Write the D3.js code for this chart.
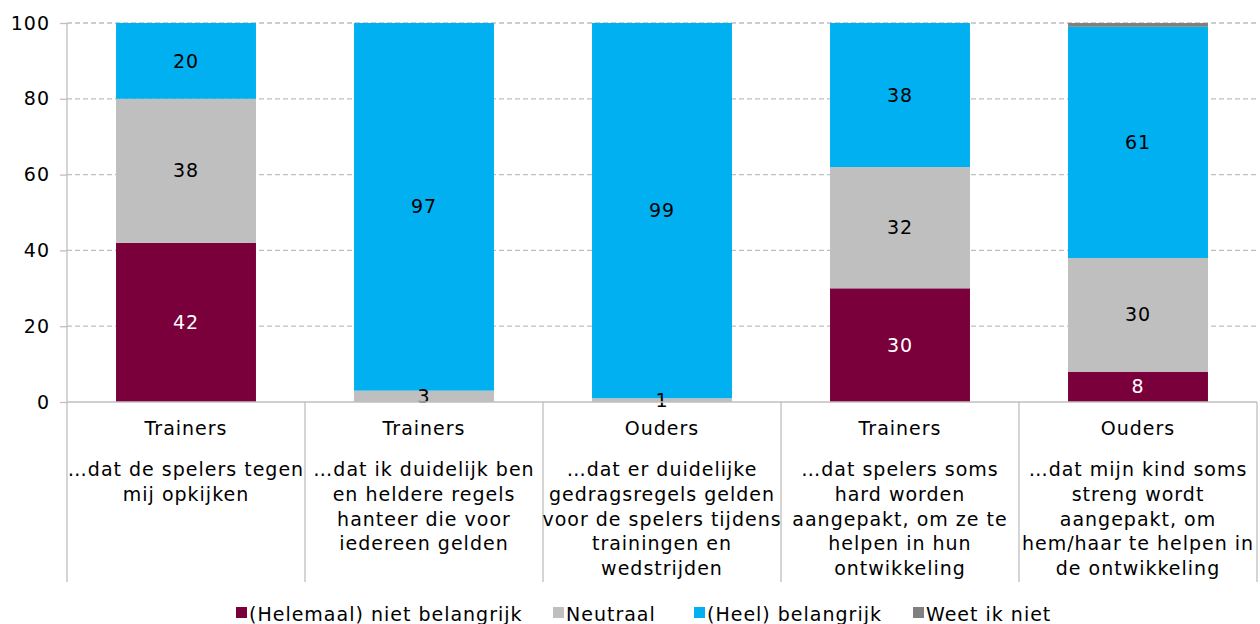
<!DOCTYPE html>
<html>
<head>
<meta charset="utf-8">
<script src="https://cdn.jsdelivr.net/npm/d3@7"></script>
<style>
  body { margin: 0; background: #fff; }
  svg text { font-family: "DejaVu Sans", Verdana, sans-serif; letter-spacing: 1px; }
</style>
</head>
<body>
<svg id="chart" width="1260" height="624"></svg>
<script>

var groups = ["Trainers", "Trainers", "Ouders", "Trainers", "Ouders"];

var descriptions = [
    "…dat de spelers tegen\nmij opkijken",
    "…dat ik duidelijk ben\nen heldere regels\nhanteer die voor\niedereen gelden",
    "…dat er duidelijke\ngedragsregels gelden\nvoor de spelers tijdens\ntrainingen en\nwedstrijden",
    "…dat spelers soms\nhard worden\naangepakt, om ze te\nhelpen in hun\nontwikkeling",
    "…dat mijn kind soms\nstreng wordt\naangepakt, om\nhem/haar te helpen in\nde ontwikkeling"
];

var seriesNames = ["(Helemaal) niet belangrijk", "Neutraal", "(Heel) belangrijk", "Weet ik niet"];
var seriesColors = ["#7a003c", "#bfbfbf", "#00b0f0", "#808080"];

var nietBelangrijk = [42, 0, 0, 30, 8];
var neutraal = [38, 3, 1, 32, 30];
var belangrijk = [20, 97, 99, 38, 61];
var weetNiet = [0, 0, 0, 0, 1];

var yTicks = [0, 20, 40, 60, 80, 100];

var svg = d3.select("#chart");
var plotLeft = 67, plotRight = 1257, plotTop = 23, plotBottom = 402, catBottom = 582;

var x = d3.scaleBand().domain(d3.range(groups.length)).range([plotLeft, plotRight]).padding(0);
var y = d3.scaleLinear().domain([0, 100]).range([plotBottom, plotTop]);
var barW = x.bandwidth() * 0.588;

// gridlines
svg.append("g").selectAll("line")
    .data(yTicks.filter(function(d){ return d > 0; }))
    .enter().append("line")
    .attr("x1", plotLeft).attr("x2", plotRight + 2)
    .attr("y1", function(d){ return y(d); }).attr("y2", function(d){ return y(d); })
    .attr("stroke", "#bfbfbf").attr("stroke-width", 1.3)
    .attr("stroke-dasharray", "5,3");

// y axis
var yAxis = svg.append("g")
    .attr("transform", "translate(" + plotLeft + ",0)")
    .call(d3.axisLeft(y).tickValues(yTicks).tickSize(7).tickPadding(10));
yAxis.select(".domain").remove();
yAxis.selectAll("line").attr("stroke", "#bfbfbf").attr("stroke-width", 1.3);
yAxis.selectAll("text").attr("font-size", 19).attr("fill", "#000")
    .style("font-family", "DejaVu Sans, Verdana, sans-serif");
svg.append("line").attr("x1", plotLeft).attr("x2", plotLeft).attr("y1", plotTop).attr("y2", catBottom)
    .attr("stroke", "#bfbfbf").attr("stroke-width", 1.3);

// stacked bars
var rows = groups.map(function(g, i){
    return { i: i, v: [nietBelangrijk[i], neutraal[i], belangrijk[i], weetNiet[i]] };
});

var barG = svg.append("g");
rows.forEach(function(r){
    var base = 0;
    r.v.forEach(function(val, s){
        var y0 = base, y1 = base + val;
        base = y1;
        if (val <= 0) return;
        var bx = x(r.i) + (x.bandwidth() - barW) / 2;
        barG.append("rect")
            .attr("x", bx).attr("width", barW)
            .attr("y", y(y1)).attr("height", y(y0) - y(y1))
            .attr("fill", seriesColors[s]);
    });
});

// value labels
rows.forEach(function(r){
    var base = 0;
    r.v.forEach(function(val, s){
        var y0 = base, y1 = base + val;
        base = y1;
        if (val <= 0 || s == 3) return;
        svg.append("text")
            .attr("x", x(r.i) + x.bandwidth() / 2)
            .attr("y", y((y0 + y1) / 2))
            .attr("dy", "0.35em")
            .attr("text-anchor", "middle")
            .attr("font-size", 19)
            .attr("fill", s == 0 ? "#fff" : "#000")
            .text(val);
    });
});

// x axis line and category separators
svg.append("line").attr("x1", plotLeft).attr("x2", plotRight).attr("y1", plotBottom).attr("y2", plotBottom)
    .attr("stroke", "#bfbfbf").attr("stroke-width", 1.3);
svg.append("g").selectAll("line")
    .data(d3.range(groups.length))
    .enter().append("line")
    .attr("x1", function(d){ return x(d) + x.bandwidth(); })
    .attr("x2", function(d){ return x(d) + x.bandwidth(); })
    .attr("y1", plotBottom).attr("y2", catBottom)
    .attr("stroke", "#bfbfbf").attr("stroke-width", 1.3);

// category labels
groups.forEach(function(g, i){
    var cx = x(i) + x.bandwidth() / 2;
    svg.append("text")
        .attr("x", cx).attr("y", 435)
        .attr("text-anchor", "middle").attr("font-size", 19).attr("fill", "#000")
        .text(g);
    var t = svg.append("text")
        .attr("x", cx).attr("y", 476)
        .attr("text-anchor", "middle").attr("font-size", 19).attr("fill", "#000");
    descriptions[i].split("\n").forEach(function(line, k){
        t.append("tspan").attr("x", cx).attr("y", 476 + k * 24.8).text(line);
    });
});

// legend
var legendX = [236, 553, 694, 913];
var legend = svg.append("g");
seriesNames.forEach(function(name, s){
    legend.append("rect")
        .attr("x", legendX[s]).attr("y", 607).attr("width", 11).attr("height", 11)
        .attr("fill", seriesColors[s]);
    legend.append("text")
        .attr("x", legendX[s] + 13).attr("y", 621)
        .attr("font-size", 19).attr("fill", "#000")
        .text(name);
});

</script>
</body>
</html>
